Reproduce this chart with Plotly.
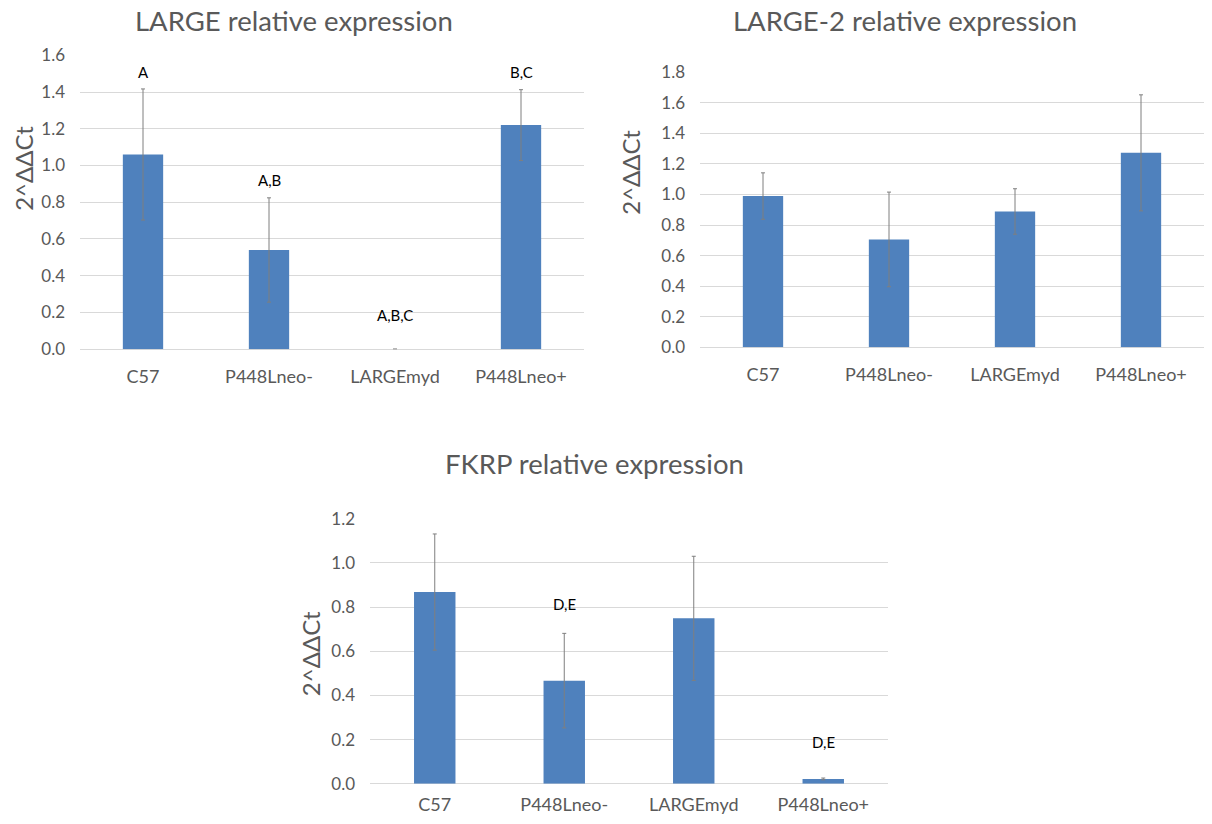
import plotly.graph_objects as go

categories = ["C57", "P448Lneo-", "LARGEmyd", "P448Lneo+"]

large_values = [1.06, 0.54, 0.0, 1.22]
large_errors = [0.357, 0.284, 0.0, 0.193]
large_letters = ["A", "A,B", "A,B,C", "B,C"]
large_letter_y = [1.51, 0.92, 0.185, 1.51]

large2_values = [0.99, 0.706, 0.889, 1.273]
large2_errors = [0.152, 0.31, 0.149, 0.38]

fkrp_values = [0.868, 0.467, 0.749, 0.022]
fkrp_errors = [0.263, 0.214, 0.281, 0.004]
fkrp_letters = ["D", "D,E", "", "D,E"]
fkrp_letter_y = [1.215, 0.814, None, 0.189]

titles = ["LARGE relative expression", "LARGE-2 relative expression", "FKRP relative expression"]
y_title = "2^ΔΔCt"

W, H = 1212, 824
FONT = "Lato"
BAR = "#4f81bd"
GRID = "#d9d9d9"
TXT = "#595959"

def px(x):
    return min(1.0, max(0.0, x / W))

def py(y):
    return min(1.0, max(0.0, 1 - y / H))

fig = go.Figure()

panels = [
    dict(vals=large_values, errs=large_errors, rng=[0, 1.6], dtick=0.2,
         xd=[px(80), px(584)], yd=[py(347), py(45.5)], stand=15,
         letters=large_letters, ly=large_letter_y),
    dict(vals=large2_values, errs=large2_errors, rng=[0, 1.8], dtick=0.2,
         xd=[px(700), px(1204)], yd=[py(345), py(63)], stand=15,
         letters=None, ly=None),
    dict(vals=fkrp_values, errs=fkrp_errors, rng=[0, 1.2], dtick=0.2,
         xd=[px(370), px(888)], yd=[py(793), py(521)], stand=8,
         letters=fkrp_letters, ly=fkrp_letter_y),
]

annotations = []
for i, p in enumerate(panels):
    n = "" if i == 0 else str(i + 1)
    fig.add_trace(go.Bar(
        x=categories, y=p["vals"],
        xaxis="x" + n, yaxis="y" + n,
        marker=dict(color=BAR, line=dict(width=0)),
        error_y=dict(type="data", array=p["errs"], visible=True,
                     color="#7f7f7f", thickness=1, width=2),
        showlegend=False, hoverinfo="x+y",
    ))
    fig.layout["xaxis" + n] = dict(
        domain=p["xd"], anchor="y" + n, showgrid=False, showline=False,
        ticks="", tickfont=dict(family=FONT, size=18, color=TXT),
        ticklabelstandoff=p["stand"], fixedrange=True,
    )
    fig.layout["yaxis" + n] = dict(
        domain=p["yd"], anchor="x" + n, range=p["rng"], dtick=p["dtick"],
        tickformat=".1f", showgrid=True, gridcolor=GRID, gridwidth=1,
        zeroline=True, zerolinecolor=GRID, zerolinewidth=1, showline=False,
        ticks="", tickfont=dict(family=FONT, size=17, color=TXT),
        ticklabelstandoff=14, fixedrange=True,
    )
    if p["letters"]:
        for c, t, yv in zip(categories, p["letters"], p["ly"]):
            if t and yv is not None:
                annotations.append(dict(
                    x=c, y=yv, xref="x" + n, yref="y" + n, text=t, showarrow=False,
                    font=dict(family=FONT, size=15, color="#000000"),
                ))

title_pos = [(294, 10), (905, 10), (594, 464)]
for t, (x, y) in zip(titles, title_pos):
    annotations.append(dict(
        x=px(x), y=py(y), xref="paper", yref="paper", text=t, showarrow=False,
        xanchor="center", yanchor="middle",
        font=dict(family=FONT, size=27.5, color=TXT),
    ))

ytitle_pos = [(24, 162), (631, 166), (310, 660)]
for (x, y) in ytitle_pos:
    annotations.append(dict(
        x=px(x), y=py(y), xref="paper", yref="paper", text=y_title, showarrow=False,
        xanchor="center", yanchor="middle", textangle=-90,
        font=dict(family=FONT, size=24, color=TXT),
    ))

fig.update_layout(
    width=W, height=H, margin=dict(l=0, r=0, t=0, b=0),
    paper_bgcolor="white", plot_bgcolor="white",
    bargap=0.68, annotations=annotations,
)

fig.write_html(
    "out.html",
    config={"displayModeBar": False},
    post_script="document.body.style.margin='0';document.documentElement.style.overflow='hidden';",
)
